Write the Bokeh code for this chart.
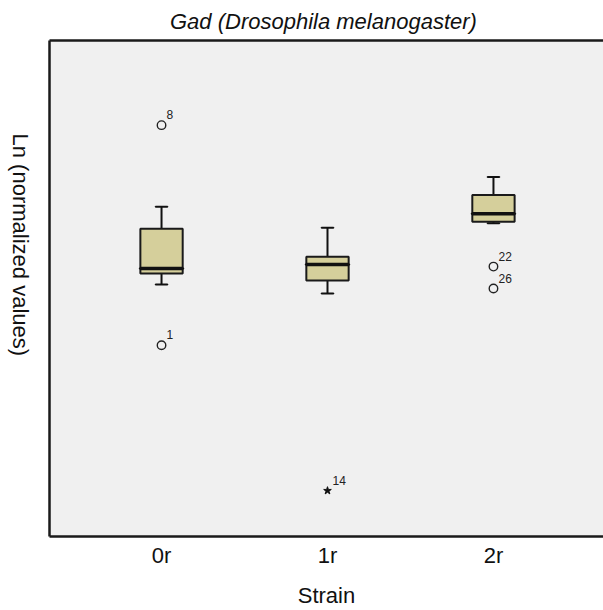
import math
from bokeh.plotting import figure
from bokeh.layouts import row
from bokeh.models import (ColumnDataSource, FixedTicker, LinearAxis, Range1d)
from bokeh.embed import file_html
from bokeh.resources import INLINE
from bokeh.core.properties import value

# ---- data (arbitrary Ln units) ----
strains = ["0r", "1r", "2r"]
whisker_lo = [2.53, 2.44, 3.145]
q1 = [2.64, 2.57, 3.16]
median = [2.69, 2.73, 3.24]
q3 = [3.09, 2.81, 3.43]
whisker_hi = [3.31, 3.10, 3.61]

outlier_strain = ["0r", "0r", "2r", "2r"]
outlier_value = [4.13, 1.92, 2.71, 2.49]
outlier_case = ["8", "1", "22", "26"]

extreme_strain = ["1r"]
extreme_value = [0.46]
extreme_case = ["14"]

title_text = "Gad  (Drosophila melanogaster)"
x_label = "Strain"
y_label = "Ln (normalized  values)"

FONT = "Liberation Sans"
pos = {s: i for i, s in enumerate(strains)}
xs = [pos[s] for s in strains]

LEFT_W = 40
W, H = 603, 610

# ---- narrow strip holding the y-axis title (reads top to bottom) ----
pl = figure(width=LEFT_W, height=H, output_backend="svg", toolbar_location=None,
            x_range=Range1d(0, LEFT_W), y_range=Range1d(0, H),
            x_axis_location=None, y_axis_location=None,
            min_border=0, outline_line_color=None,
            background_fill_color="white", border_fill_color="white")
pl.xgrid.visible = False
pl.ygrid.visible = False
pl.text(x=[20], y=[H - 255], text=[y_label], angle=-math.pi / 2,
        text_align="center", text_baseline="middle", text_font=value(FONT),
        text_font_size="22px", text_color="#111111")

# ---- main plot ----
p = figure(width=W - LEFT_W, height=H, output_backend="svg",
           toolbar_location=None,
           x_range=Range1d(-0.675, 2.663), y_range=Range1d(0, 4.98),
           min_border_left=49 - LEFT_W, min_border_right=0, min_border_top=39,
           min_border_bottom=73, background_fill_color="#f0f0f0",
           border_fill_color="white", outline_line_color=None)

p.title.text = title_text
p.title.text_font = FONT
p.title.text_font_size = "22px"
p.title.text_font_style = "italic"
p.title.text_color = "#111111"
p.title.align = "center"
p.title.standoff = 13

p.xgrid.visible = False
p.ygrid.visible = False

# x axis
xa = p.xaxis[0]
xa.ticker = FixedTicker(ticks=xs)
xa.major_label_overrides = {i: s for i, s in enumerate(strains)}
xa.major_tick_line_color = None
xa.minor_tick_line_color = None
xa.axis_line_color = "#1a1a1a"
xa.axis_line_width = 2.5
xa.major_label_text_font = FONT
xa.major_label_text_font_size = "22px"
xa.major_label_text_color = "#111111"
xa.major_label_standoff = 0
xa.axis_label = x_label
xa.axis_label_text_font = FONT
xa.axis_label_text_font_size = "22px"
xa.axis_label_text_font_style = "normal"
xa.axis_label_text_color = "#111111"
xa.axis_label_standoff = 12

# y axis (left border only, no ticks)
ya = p.yaxis[0]
ya.ticker = FixedTicker(ticks=[])
ya.major_tick_line_color = None
ya.minor_tick_line_color = None
ya.axis_line_color = "#1a1a1a"
ya.axis_line_width = 2.5

# top border
top = LinearAxis(ticker=FixedTicker(ticks=[]), major_tick_line_color=None,
                 minor_tick_line_color=None, axis_line_color="#1a1a1a",
                 axis_line_width=2.5)
p.add_layout(top, "above")

# boxes
src = ColumnDataSource(dict(x=xs, lo=whisker_lo, q1=q1, med=median, q3=q3,
                            hi=whisker_hi))
p.segment(x0="x", y0="q3", x1="x", y1="hi", source=src, line_color="#111111",
          line_width=2)
p.segment(x0="x", y0="lo", x1="x", y1="q1", source=src, line_color="#111111",
          line_width=2)
cap = 0.072
p.rect(x="x", y="hi", width=cap, height=0.0001, source=src,
       line_color="#111111", line_width=2, fill_color=None)
p.rect(x="x", y="lo", width=cap, height=0.0001, source=src,
       line_color="#111111", line_width=2, fill_color=None)
p.vbar(x="x", bottom="q1", top="q3", width=0.255, source=src,
       fill_color="#d5cf9b", line_color="#1a1a1a", line_width=2)
p.rect(x="x", y="med", width=0.255, height=0.0001, source=src,
       line_color="#111111", line_width=3.5, fill_color=None)

# outliers
osrc = ColumnDataSource(dict(x=[pos[s] for s in outlier_strain],
                             y=outlier_value, t=outlier_case))
p.scatter(x="x", y="y", source=osrc, marker="circle", size=8.5,
          fill_color=None, line_color="#222222", line_width=1.4)
p.text(x="x", y="y", text="t", source=osrc, x_offset=5, y_offset=-6,
       text_align="left", text_baseline="bottom", text_font=value(FONT),
       text_font_size="12px", text_color="#222222")

esrc = ColumnDataSource(dict(x=[pos[s] for s in extreme_strain],
                             y=extreme_value, t=extreme_case))
p.scatter(x="x", y="y", source=esrc, marker="star", size=8,
          fill_color="#111111", line_color="#111111")
p.text(x="x", y="y", text="t", source=esrc, x_offset=5, y_offset=-6,
       text_align="left", text_baseline="bottom", text_font=value(FONT),
       text_font_size="12px", text_color="#222222")

layout = row(pl, p, spacing=0)
open("out.html", "w").write(file_html(layout, INLINE))
